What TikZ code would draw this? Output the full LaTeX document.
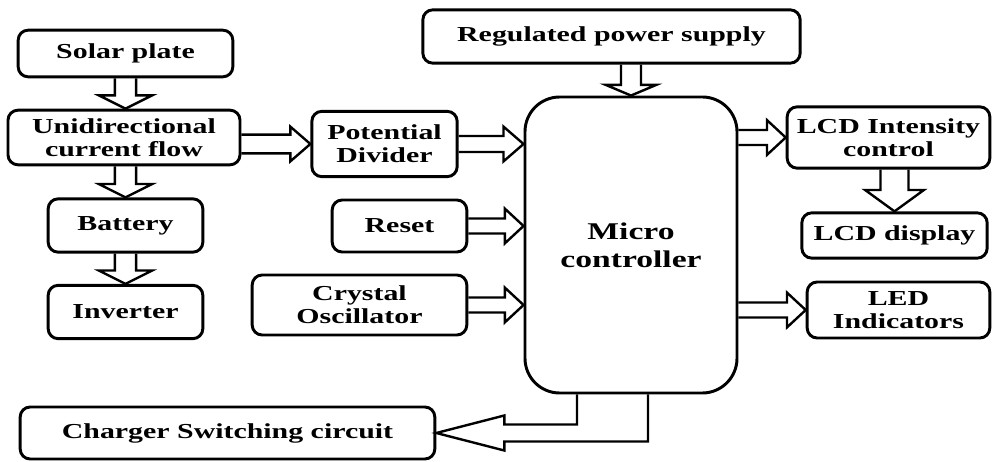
\documentclass[tikz,border=0pt]{standalone}
\usepackage{fontspec}
\setmainfont{Liberation Serif}[FakeStretch=1.4]
\usetikzlibrary{calc}

\tikzset{
  block/.style={draw, line width=2.2pt, rounded corners=7.5pt, align=center,
    font=\fontsize{16}{17}\selectfont\bfseries, inner sep=2pt},
  fatline/.style={line width=1.8pt, line join=miter},
  fat shaft/.store in=\fatshaft,
  fat head/.store in=\fathead,
  fat len/.store in=\fatlen,
  fat shaft=6pt, fat head=13pt, fat len=14pt,
  wide/.style={fat shaft=8pt, fat head=20pt, fat len=10pt}
}

% hollow block arrow from #2 to #3
\newcommand{\fatarrow}[3][]{%
  \begin{scope}[#1]
    \coordinate (fs) at (#2);
    \coordinate (ft) at (#3);
    \coordinate (fb) at ($(ft)!\fatlen!(fs)$);
    \draw[fatline] ($(fs)!\fatshaft!90:(ft)$) -- ($(fb)!\fatshaft!90:(ft)$)
      -- ($(fb)!\fathead!90:(ft)$) -- (ft) -- ($(fb)!\fathead!-90:(ft)$)
      -- ($(fb)!\fatshaft!-90:(ft)$) -- ($(fs)!\fatshaft!-90:(ft)$);
  \end{scope}}

\begin{document}
\begin{tikzpicture}[x=0.75pt, y=0.75pt]
  \useasboundingbox (0,0) rectangle (992,461);

  % left column
  \node[block, minimum width=161pt, minimum height=35pt] (solar) at (125.5,407.5) {Solar plate};
  \node[block, minimum width=174pt, minimum height=41pt] (unid) at (124,323.5) {Unidirectional\\current flow};
  \node[block, minimum width=116pt, minimum height=40pt] (battery) at (125.5,235.5) {Battery};
  \node[block, minimum width=116pt, minimum height=40pt] (inverter) at (125.5,149) {Inverter};
  \node[block, minimum width=311pt, minimum height=39pt] (charger) at (227.5,28) {Charger Switching circuit};

  % inputs of the controller
  \node[block, minimum width=109pt, minimum height=49pt] (pot) at (384.5,317) {Potential\\Divider};
  \node[block, minimum width=101pt, minimum height=39pt] (reset) at (399.5,235) {Reset};
  \node[block, minimum width=161pt, minimum height=45pt] (crystal) at (359.5,156) {Crystal\\Oscillator};
  \node[block, minimum width=283pt, minimum height=40pt] (reg) at (611.5,424.5) {Regulated power supply};

  \node[block, rounded corners=26pt, minimum width=159pt, minimum height=222pt,
    font=\fontsize{18}{21}\selectfont\bfseries] (micro) at (631,216) {Micro\\controller};

  % outputs
  \node[block, minimum width=152pt, minimum height=46pt] (lcdint) at (888.5,323.5) {LCD Intensity\\control};
  \node[block, minimum width=139pt, minimum height=34pt] (lcddisp) at (894.5,225.5) {LCD display};
  \node[block, minimum width=137pt, minimum height=42pt] (led) at (898.5,151) {LED\\Indicators};

  % arrows
  \fatarrow[wide]{solar.south}{solar.south |- unid.north}
  \fatarrow[wide]{battery.north |- unid.south}{battery.north}
  \fatarrow[wide]{battery.south}{inverter.north}
  \fatarrow[fat shaft=7pt, fat len=15pt]{unid.east |- pot.west}{pot.west}
  \fatarrow[fat len=15pt]{pot.east}{pot.east -| micro.west}
  \fatarrow[fat shaft=5.6pt]{reset.east}{reset.east -| micro.west}
  \fatarrow[fat shaft=5.6pt]{crystal.east}{crystal.east -| micro.west}
  \fatarrow[fat shaft=7.5pt, fat head=19pt, fat len=8pt]{micro.north |- reg.south}{micro.north}
  \fatarrow[fat shaft=5.6pt]{lcdint.west -| micro.east}{lcdint.west}
  \fatarrow[fat shaft=10.5pt, fat head=22pt, fat len=16pt]{lcddisp.north |- lcdint.south}{lcddisp.north}
  \fatarrow[fat shaft=5.6pt]{led.west -| micro.east}{led.west}

  % controller to charger
  \draw[fatline] ($(micro.south)+(-54,0)$) |- ($(charger.east)+(68,8.5)$) -- ++(0,9)
    -- (charger.east) -- ++(68,-17.5) -- ++(0,9) -| ($(micro.south)+(17,0)$);
\end{tikzpicture}
\end{document}
